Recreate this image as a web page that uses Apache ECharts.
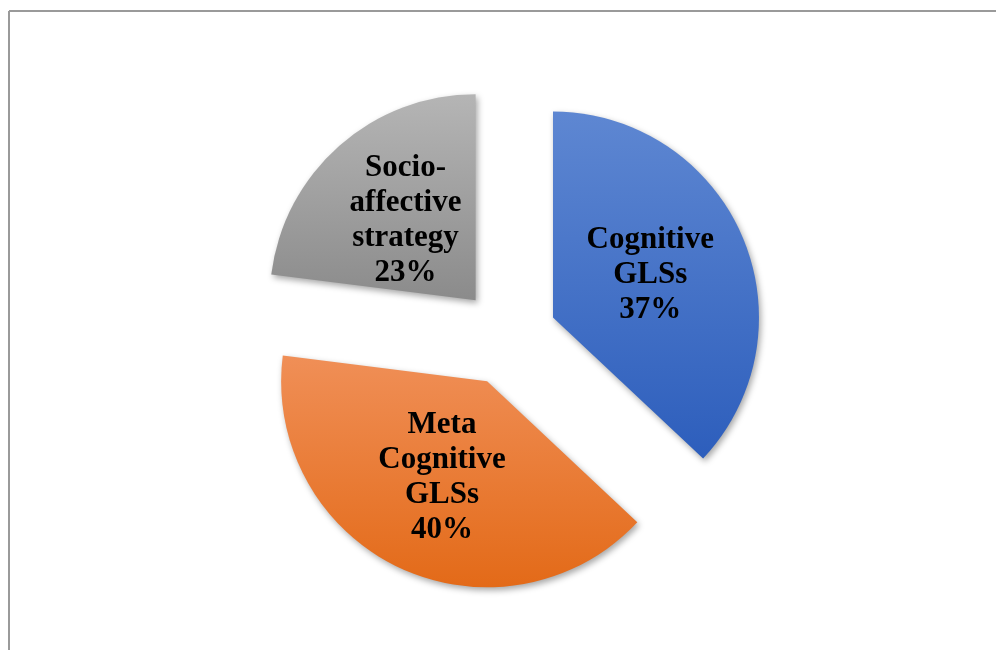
<!DOCTYPE html>
<html>
<head>
<meta charset="utf-8">
<script src="https://cdn.jsdelivr.net/npm/echarts@6/dist/echarts.min.js"></script>
<style>
    html, body { margin: 0; padding: 0; background: #fff; }
    #chart { width: 996px; height: 650px; }
</style>
</head>
<body>
<div id="chart"></div>
<script>
const categories = ['Cognitive\nGLSs', 'Meta\nCognitive\nGLSs', 'Socio-\naffective\nstrategy'];
const shares = [37, 40, 23];
const topColors = ['#5e87d2', '#f08f57', '#b5b5b5'];
const bottomColors = ['#2d5ebc', '#e36a18', '#8b8b8b'];

const chart = echarts.init(document.getElementById('chart'));

chart.setOption({
    animation: false,
    graphic: [
        // frame of the chart area (top and left edges only are visible)
        { type: 'line', shape: { x1: 9, y1: 11, x2: 996, y2: 11 }, style: { stroke: '#9a9a9a', lineWidth: 2 } },
        { type: 'line', shape: { x1: 9, y1: 11, x2: 9, y2: 650 }, style: { stroke: '#9a9a9a', lineWidth: 2 } }
    ],
    series: [{
        type: 'pie',
        center: [508, 337],
        radius: [0, 206],
        startAngle: 90,
        clockwise: true,
        selectedMode: 'multiple',
        selectedOffset: 49,
        label: {
            show: true,
            position: 'inside',
            color: '#000',
            fontFamily: 'Liberation Serif',
            fontWeight: 'bold',
            fontSize: 31,
            lineHeight: 35,
            formatter: p => p.name + '\n' + p.value + '%'
        },
        labelLine: { show: false },
        emphasis: { disabled: true },
        select: { itemStyle: { borderWidth: 0 } },
        data: categories.map((name, i) => ({
            name: name,
            value: shares[i],
            selected: true,
            itemStyle: {
                color: new echarts.graphic.LinearGradient(0, 0, 0, 1, [
                    { offset: 0, color: topColors[i] },
                    { offset: 1, color: bottomColors[i] }
                ]),
                shadowBlur: 6,
                shadowOffsetX: 2,
                shadowOffsetY: 3,
                shadowColor: 'rgba(0,0,0,0.35)'
            }
        }))
    }]
});
</script>
</body>
</html>
